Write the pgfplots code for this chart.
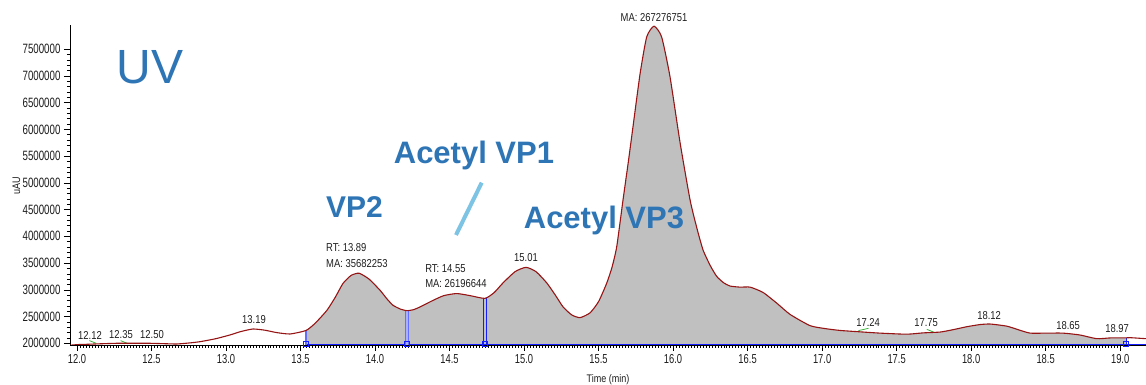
\documentclass[border=0pt]{standalone}
\usepackage{pgfplots}
\pgfplotsset{compat=1.18}
\usepackage{pgfplotstable}
\usepackage{fontspec}
\setmainfont{Liberation Sans}
\newfontfamily\tickfont[FakeStretch=0.72]{Liberation Sans}
\newfontfamily\lblfont[FakeStretch=0.82]{Liberation Sans}
\definecolor{curvered}{RGB}{150,20,20}
\definecolor{fillgray}{RGB}{192,192,192}
\definecolor{annblue}{RGB}{46,117,182}
\definecolor{slashblue}{RGB}{125,195,228}
\definecolor{peakgreen}{RGB}{60,180,60}
\definecolor{txt}{RGB}{30,30,30}
\definecolor{mkblue}{RGB}{20,30,255}
\definecolor{mklight}{RGB}{100,110,255}

\pgfplotstableread{
t v
11.953 1963000
12.000 1975000
12.065 1981000
12.150 1990000
12.266 2000000
12.400 2000000
12.490 2000000
12.580 1993000
12.669 1987000
12.750 2005000
12.826 2030000
12.930 2085000
13.027 2156000
13.100 2220000
13.181 2267000
13.260 2245000
13.340 2200000
13.430 2174000
13.537 2240000
13.600 2380000
13.678 2620000
13.735 2870000
13.785 3120000
13.840 3270000
13.893 3310000
13.960 3200000
14.034 2990000
14.080 2830000
14.121 2710000
14.170 2640000
14.215 2610000
14.260 2630000
14.302 2680000
14.380 2790000
14.460 2890000
14.548 2930000
14.640 2890000
14.738 2840000
14.800 2950000
14.859 3130000
14.940 3340000
15.013 3420000
15.080 3340000
15.152 3130000
15.210 2900000
15.262 2680000
15.320 2530000
15.376 2480000
15.443 2570000
15.500 2780000
15.554 3120000
15.590 3420000
15.622 3810000
15.664 4680000
15.700 5400000
15.731 6050000
15.779 7050000
15.823 7730000
15.872 7930000
15.923 7730000
15.979 6990000
16.047 5750000
16.114 4680000
16.160 4150000
16.201 3745000
16.250 3450000
16.293 3250000
16.340 3130000
16.383 3070000
16.450 3050000
16.517 3050000
16.604 2950000
16.696 2750000
16.785 2540000
16.919 2330000
17.020 2275000
17.121 2240000
17.250 2215000
17.389 2190000
17.568 2170000
17.680 2195000
17.792 2210000
17.880 2255000
17.971 2310000
18.060 2350000
18.128 2360000
18.240 2320000
18.320 2250000
18.396 2190000
18.500 2190000
18.617 2190000
18.730 2155000
18.843 2086000
18.933 2100000
19.040 2102000
19.067 2105000
19.174 2086000
}\uvdata

\begin{document}
\begin{tikzpicture}
\useasboundingbox (0,0) rectangle (1146pt,385pt);
\begin{axis}[
  at={(70pt,40pt)}, anchor=south west,
  scale only axis, width=1076pt, height=320pt,
  xmin=11.953, xmax=19.174, ymin=1968000, ymax=7952000,
  axis x line*=bottom, axis y line*=left,
  clip mode=individual,
  xtick={12,12.5,13,13.5,14,14.5,15,15.5,16,16.5,17,17.5,18,18.5,19},
  minor x tick num=24,
  ytick={2000000,2500000,3000000,3500000,4000000,4500000,5000000,5500000,6000000,6500000,7000000,7500000},
  minor y tick num=4,
  tick align=outside,
  major tick length=6pt, minor tick length=3pt,
  scaled y ticks=false, scaled x ticks=false,
  xticklabel style={/pgf/number format/fixed, /pgf/number format/fixed zerofill, /pgf/number format/precision=1, /pgf/number format/assume math mode=true, font=\tickfont\fontsize{13}{13}\selectfont, text=txt},
  yticklabel style={/pgf/number format/fixed, /pgf/number format/1000 sep={}, /pgf/number format/assume math mode=true, font=\tickfont\fontsize{13.5}{13.5}\selectfont, text=txt},
  axis line style={black, line width=0.8pt},
  every tick/.style={black, line width=0.5pt},
]
% filled area
\addplot[fill=fillgray, draw=none, smooth, tension=0.35, restrict x to domain=13.537:19.04] table[x=t, y=v] {\uvdata} \closedcycle;
% baseline and integration markers
\addplot[mkblue, line width=1pt] coordinates {(13.537,1976000) (19.174,1976000)};
\addplot[mklight, line width=1.6pt] coordinates {(13.537,1968000) (13.537,2240000)};
\addplot[mklight!55, line width=3.4pt] coordinates {(14.215,1968000) (14.215,2610000)};
\addplot[mklight, line width=0.9pt] coordinates {(14.204,1968000) (14.204,2612000)};
\addplot[mklight, line width=0.9pt] coordinates {(14.226,1968000) (14.226,2612000)};
\addplot[mkblue, line width=0.9pt] coordinates {(14.727,1968000) (14.727,2842000)};
\addplot[mkblue, line width=0.9pt] coordinates {(14.749,1968000) (14.749,2840000)};
\addplot[mkblue, line width=1pt] coordinates {(19.04,1968000) (19.04,2102000)};
\addplot[only marks, mark=square, mark size=2.6pt, mkblue, mark options={line width=0.8pt}] coordinates {(13.537,1995000) (14.215,1995000) (14.738,1995000) (19.04,1995000)};
% green marks
\addplot[peakgreen, line width=0.8pt] coordinates {(12.083,2050000) (12.128,2000000)};
\addplot[peakgreen, line width=0.8pt] coordinates {(12.293,2050000) (12.344,1990000)};
\addplot[peakgreen, line width=0.8pt] coordinates {(17.244,2237000) (17.311,2280000)};
\addplot[peakgreen, line width=0.8pt] coordinates {(17.703,2260000) (17.748,2210000)};
% curve
\addplot[curvered, line width=1.1pt, smooth, tension=0.35] table[x=t, y=v] {\uvdata};
% peak labels
\begin{scope}[every node/.style={font=\lblfont\fontsize{11.5}{12}\selectfont, text=txt, inner sep=0pt}]
\node at (axis cs:12.087,2155000) {12.12};
\node at (axis cs:12.295,2155000) {12.35};
\node at (axis cs:12.503,2155000) {12.50};
\node at (axis cs:13.188,2436000) {13.19};
\node[anchor=west] at (axis cs:13.671,3782000) {RT: 13.89};
\node[anchor=west] at (axis cs:13.671,3483000) {MA: 35682253};
\node[anchor=west] at (axis cs:14.336,3389000) {RT: 14.55};
\node[anchor=west] at (axis cs:14.336,3118000) {MA: 26196644};
\node at (axis cs:15.013,3595000) {15.01};
\node at (axis cs:15.872,8096000) {MA: 267276751};
\node at (axis cs:17.309,2380000) {17.24};
\node at (axis cs:17.698,2380000) {17.75};
\node at (axis cs:18.121,2510000) {18.12};
\node at (axis cs:18.651,2340000) {18.65};
\node at (axis cs:18.980,2270000) {18.97};
\end{scope}
\end{axis}
% axis titles
\node[rotate=90, font=\lblfont\fontsize{11}{11}\selectfont, text=txt, inner sep=0pt] at (16.5pt,199pt) {uAU};
\node[anchor=base, font=\lblfont\fontsize{11}{11}\selectfont, text=txt] at (608pt,2pt) {Time (min)};
% annotations
\node[anchor=base, text=annblue, font=\fontsize{48}{48}\selectfont, inner sep=0pt] at (150pt,301.7pt) {UV};
\node[anchor=base, text=annblue, font=\bfseries\fontsize{31}{31}\selectfont, inner sep=0pt] at (474pt,221pt) {Acetyl VP1};
\node[anchor=base, text=annblue, font=\bfseries\fontsize{30}{30}\selectfont, inner sep=0pt] at (354.5pt,167pt) {VP2};
\node[anchor=base, text=annblue, font=\bfseries\fontsize{31}{31}\selectfont, inner sep=0pt] at (604pt,156pt) {Acetyl VP3};
\draw[slashblue, line width=4pt] (481.7pt,202.3pt) -- (456pt,150pt);
\end{tikzpicture}
\end{document}
